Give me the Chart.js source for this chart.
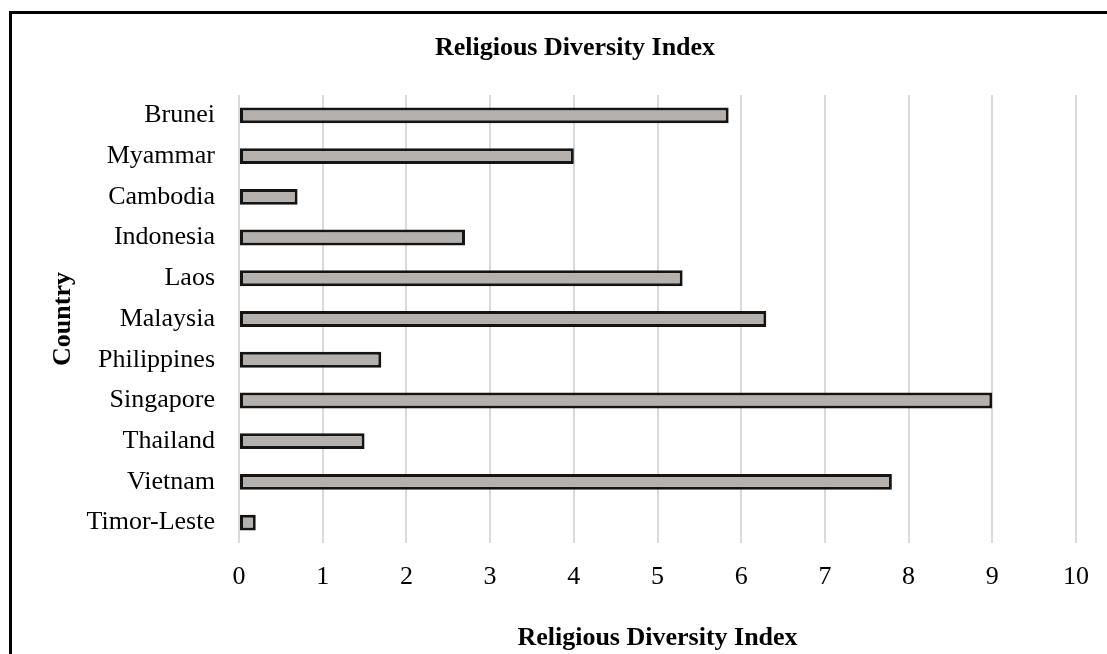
<!DOCTYPE html>
<html>
<head>
<meta charset="utf-8">
<script src="https://cdn.jsdelivr.net/npm/chart.js@4/dist/chart.umd.min.js"></script>
<style>
  html, body { margin: 0; padding: 0; background: #ffffff; overflow: hidden; }
  #wrap { position: relative; width: 1107px; height: 654px; }
  #frame { position: absolute; left: 9px; top: 11px; width: 1200px; height: 800px; border: 3px solid #000; box-sizing: border-box; pointer-events: none; }
  canvas { position: absolute; left: 0; top: 0; }
</style>
</head>
<body>
<div id="wrap">
  <canvas id="c" width="1107" height="654"></canvas>
  <div id="frame"></div>
</div>
<script>
const countries = ["Brunei", "Myammar", "Cambodia", "Indonesia", "Laos", "Malaysia", "Philippines", "Singapore", "Thailand", "Vietnam", "Timor-Leste"];
const diversityIndex = [5.85, 4.0, 0.7, 2.7, 5.3, 6.3, 1.7, 9.0, 1.5, 7.8, 0.2];
const xTicks = [0, 1, 2, 3, 4, 5, 6, 7, 8, 9, 10];
const chartTitle = "Religious Diversity Index";
const xTitle = "Religious Diversity Index";
const yTitle = "Country";

const FONT = '"Liberation Serif", "Times New Roman", serif';

new Chart(document.getElementById('c'), {
  type: 'bar',
  data: {
    labels: countries,
    datasets: [{
      data: diversityIndex,
      backgroundColor: '#b4b0ae',
      borderColor: '#141414',
      borderWidth: 3,
      borderSkipped: false,
      barPercentage: 0.39,
      categoryPercentage: 1.0
    }]
  },
  options: {
    indexAxis: 'y',
    responsive: false,
    animation: false,
    layout: { padding: { left: 43, right: 0, top: 0, bottom: 0 } },
    plugins: {
      legend: { display: false },
      tooltip: { enabled: false },
      title: {
        display: true,
        text: chartTitle,
        color: '#000',
        font: { family: FONT, size: 26, weight: 'bold' },
        padding: { top: 33, bottom: 30.8 }
      }
    },
    scales: {
      x: {
        min: 0,
        max: 10,
        afterBuildTicks: (s) => { s.ticks = xTicks.map(v => ({ value: v })); },
        afterFit: (s) => { s.height = 111; s.paddingRight = 31; },
        grid: { color: '#dadada', lineWidth: 2, drawTicks: false },
        border: { display: false },
        ticks: { color: '#000', padding: 19, font: { family: FONT, size: 26 } },
        title: {
          display: true,
          text: xTitle,
          color: '#000',
          font: { family: FONT, size: 26, weight: 'bold' },
          padding: { top: 0, bottom: 0 }
        }
      },
      y: {
        afterFit: (s) => { s.width = 196; },
        grid: { display: false, drawTicks: false },
        border: { display: false },
        ticks: { color: '#000', padding: 24, font: { family: FONT, size: 26 } },
        title: {
          display: true,
          text: yTitle,
          color: '#000',
          font: { family: FONT, size: 26, weight: 'bold' },
          padding: { top: 5, bottom: 0 }
        }
      }
    }
  }
});
</script>
</body>
</html>
